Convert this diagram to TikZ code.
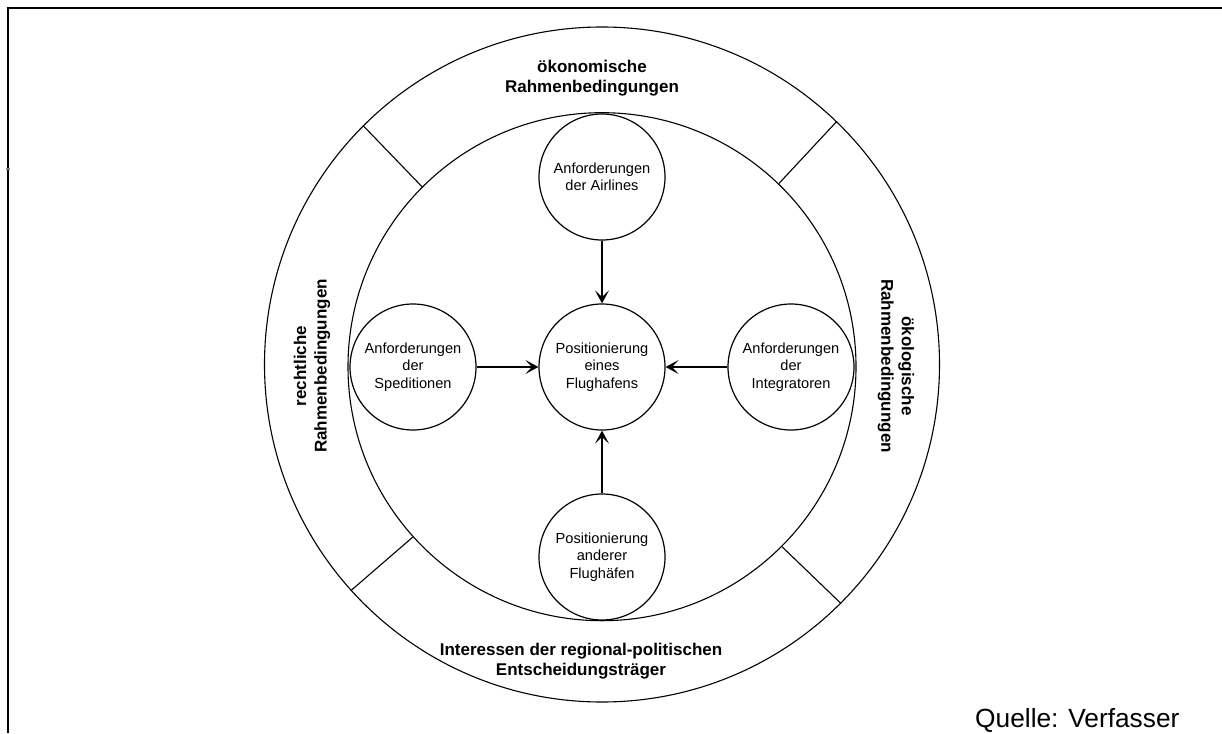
\documentclass[tikz,border=0pt]{standalone}
\usepackage{fontspec}
\setmainfont{Liberation Sans}
\usetikzlibrary{arrows.meta}
\begin{document}
\begin{tikzpicture}[x=1pt,y=-1pt,
  ring/.style={draw, circle, line width=1.1pt, inner sep=0pt},
  factor/.style={draw, circle, line width=1.2pt, inner sep=0pt, minimum size=126pt,
    align=center, font=\fontsize{14.6}{17.5}\selectfont},
  frametext/.style={font=\bfseries\fontsize{17}{20.5}\selectfont, align=center},
  divider/.style={line width=1.1pt},
  arr/.style={-{Stealth[length=13pt,width=14pt,inset=6.5pt]}, line width=1.8pt}]
\useasboundingbox (0,0) rectangle (1222,733);

% page frame
\draw[line width=2pt] (1222,8) -- (7,8);
\draw[line width=1.7pt] (8,8) -- (8,733);
\draw[gray, line width=2pt] (6,169) -- (10,169);

% outer ring and inner field
\node[ring, minimum size=675pt] (outer) at (602,364.5) {};
\node[ring, minimum size=508pt] (inner) at (602,366.7) {};

% ring dividers
\draw[divider] (inner.46.5) -- (outer.46.5);
\draw[divider] (inner.135.5) -- (outer.135.5);
\draw[divider] (inner.222) -- (outer.222);
\draw[divider] (inner.315.6) -- (outer.315.6);

% framework conditions in the ring
\node[frametext] (oeko) at (592,78) {ökonomische\\Rahmenbedingungen};
\node[frametext] (pol) at (581,661) {Interessen der regional-politischen\\Entscheidungsträger};
\node[frametext, rotate=90] (recht) at (312,366) {rechtliche\\Rahmenbedingungen};
\node[frametext, rotate=-90] (oekol) at (896,366) {ökologische\\Rahmenbedingungen};

% factors
\node[factor] (pos) at (602,367) {Positionierung\\eines\\Flughafens};
\node[factor] (air) at (602,177) {Anforderungen\\der Airlines};
\node[factor] (sped) at (413,367) {Anforderungen\\der\\Speditionen};
\node[factor] (integ) at (791,367) {Anforderungen\\der\\Integratoren};
\node[factor] (andere) at (602,557) {Positionierung\\anderer\\Flughäfen};

% influences
\draw[arr] (air) -- (pos);
\draw[arr] (sped) -- (pos);
\draw[arr] (integ) -- (pos);
\draw[arr] (andere) -- (pos);

% source
\node[anchor=base west, inner sep=0pt, font=\fontsize{26.3}{30}\selectfont] (quelle) at (975,727.7) {Quelle: Verfasser};
\end{tikzpicture}
\end{document}
